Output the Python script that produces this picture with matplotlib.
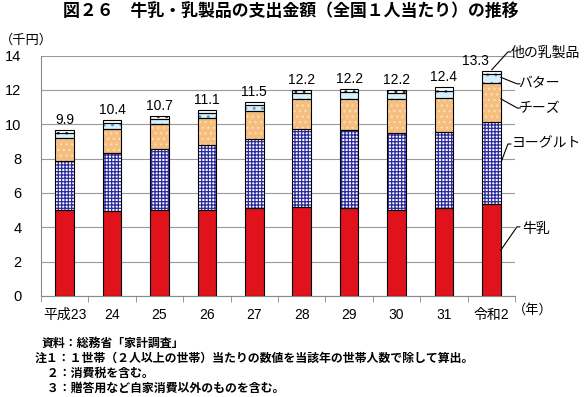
import numpy as np
import matplotlib
matplotlib.use("Agg")
import matplotlib.pyplot as plt

plt.rcParams['font.family'] = ['Liberation Sans', 'Noto Sans CJK JP', 'DejaVu Sans']
plt.rcParams['hatch.linewidth'] = 0.9

# data (千円)
years = ['平成23', '24', '25', '26', '27', '28', '29', '30', '31', '令和2']
milk = [5.00, 4.93, 4.99, 4.99, 5.12, 5.18, 5.12, 4.99, 5.12, 5.34]
yogurt = [2.86, 3.38, 3.57, 3.78, 4.01, 4.53, 4.53, 4.49, 4.43, 4.81]
cheese = [1.32, 1.40, 1.46, 1.58, 1.63, 1.77, 1.84, 1.98, 2.00, 2.28]
butter = [0.30, 0.34, 0.28, 0.32, 0.34, 0.35, 0.37, 0.34, 0.42, 0.51]
other = [0.19, 0.18, 0.17, 0.18, 0.18, 0.17, 0.18, 0.18, 0.19, 0.19]
totals = ['9.9', '10.4', '10.7', '11.1', '11.5', '12.2', '12.2', '12.2', '12.4', '13.3']

series = [
    ('牛乳', milk, '#E0121C', None, None),
    ('ヨーグルト', yogurt, 'white', '#2A2A9C', '+++++'),
    ('チーズ', cheese, '#F6BE7E', '#FBDDB8', '...'),
    ('バター', butter, '#D6F1FB', '#5E9AD0', '..'),
    ('他の乳製品', other, 'white', '#333333', '..'),
]

fig = plt.figure(figsize=(5.85, 3.97), dpi=100)
ax = fig.add_axes([0.0701, 0.2549, 0.8103, 0.6048])

x = np.arange(len(years))
w = 0.395
bottom = np.zeros(len(years))
for name, vals, fc, hc, hatch in series:
    vals = np.array(vals)
    if hatch:
        ax.bar(x, vals, w, bottom=bottom, color=fc, edgecolor=hc, hatch=hatch,
               linewidth=0, zorder=3)
    else:
        ax.bar(x, vals, w, bottom=bottom, color=fc, linewidth=0, zorder=3)
    ax.bar(x, vals, w, bottom=bottom, fill=False, edgecolor='black',
           linewidth=0.8, zorder=4)
    bottom = bottom + vals

# total labels
for i, t in enumerate(totals):
    xi = i - 0.34 if i == len(years) - 1 else i
    ax.text(xi, bottom[i] + 0.18, t, ha='center', va='bottom', fontsize=10)

ax.set_xlim(-0.5, len(years) - 0.5)
ax.set_ylim(0, 14)
ax.set_yticks(range(0, 15, 2))
ax.set_xticks(x)
ax.set_xticklabels(years, fontsize=10)
ax.set_xticks(np.arange(-0.5, len(years), 1), minor=True)
ax.tick_params(axis='x', which='major', length=0, pad=9)
ax.tick_params(axis='x', which='minor', length=4, color='#888888')
ax.tick_params(axis='y', length=0, pad=14, labelsize=10.5)
ax.grid(axis='y', color='#9a9a9a', linewidth=0.8, zorder=0)
for s in ['top', 'right']:
    ax.spines[s].set_visible(False)
for s in ['left', 'bottom']:
    ax.spines[s].set_color('#888888')
    ax.spines[s].set_linewidth(0.8)

# leader lines and series names
labels = [
    ('他の乳製品', (9.01, 13.18), (9.35, 14.22), (9.40, 14.19)),
    ('バター', (9.20, 12.74), (9.54, 12.36), (9.57, 12.40)),
    ('チーズ', (9.20, 11.48), (9.55, 10.95), (9.57, 10.95)),
    ('ヨーグルト', (9.22, 7.90), (9.35, 8.85), (9.43, 8.90)),
    ('牛乳', (9.20, 2.66), (9.54, 4.02), (9.66, 3.90)),
]
for name, p0, p1, pt in labels:
    ax.plot([p0[0], p1[0], p1[0] + 0.06], [p0[1], p1[1], p1[1]], color='black',
            linewidth=0.8, clip_on=False, zorder=5)
    ax.text(pt[0], pt[1], name, ha='left', va='center', fontsize=10,
            family=['Noto Sans CJK JP'])

fig.text(0.497, 0.970, '図２６　牛乳・乳製品の支出金額（全国１人当たり）の推移',
         ha='center', va='center', fontsize=12.2, fontweight='bold',
         family=['Noto Sans CJK JP'])
fig.text(0.0, 0.899, '（千円）', ha='left', va='center', fontsize=9.5,
         family=['Noto Sans CJK JP'])
fig.text(0.911, 0.219, '（年）', ha='center', va='center', fontsize=9.5,
         family=['Noto Sans CJK JP'])

notes = [
    (0.071, '資料：総務省「家計調査」'),
    (0.060, '注１：１世帯（２人以上の世帯）当たりの数値を当該年の世帯人数で除して算出。'),
    (0.060, '　２：消費税を含む。'),
    (0.060, '　３：贈答用など自家消費以外のものを含む。'),
]
for k, (xx, t) in enumerate(notes):
    fig.text(xx, 1 - (343 + 15 * k) / 397, t, ha='left', va='center',
             fontsize=8.6, fontweight='bold', family=['Noto Sans CJK JP'])

fig.savefig('out.png', dpi=100)
